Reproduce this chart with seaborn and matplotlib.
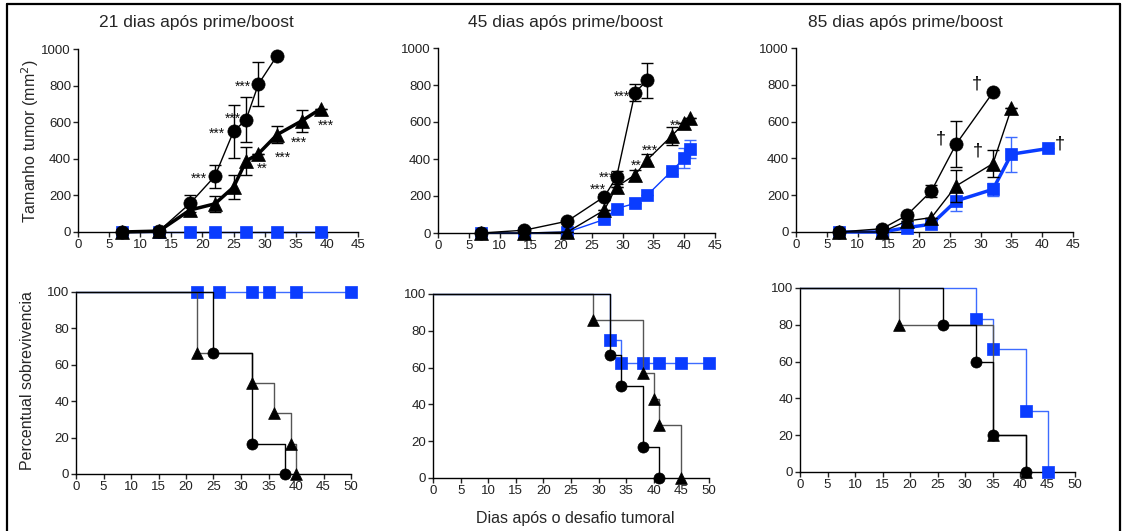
import numpy as np
import matplotlib
matplotlib.use('Agg')
import matplotlib.pyplot as plt
import seaborn as sns
from matplotlib.lines import Line2D

sns.set_style('ticks')
plt.rcParams['font.family'] = ['Liberation Sans', 'DejaVu Sans']

BLUE = '#0a3cff'
BLUE_LINE = '#3d6bff'
GRAY = '#555555'

titles = ['21 dias após prime/boost', '45 dias após prime/boost', '85 dias após prime/boost']

# ---- tumour growth (mean, error) ----
# 21 dias
c1_x = [7, 13, 18, 22, 25, 27, 29, 32]
c1_y = [0, 5, 156, 305, 550, 613, 808, 964]
c1_e = [0, 0, 45, 63, 145, 122, 122, 0]
t1_x = [7, 13, 18, 22, 25, 27, 29, 32, 36, 39]
t1_y = [0, 5, 120, 154, 245, 387, 428, 532, 608, 673]
t1_e = [0, 0, 25, 43, 66, 75, 0, 45, 60, 0]
s1_x = [7, 13, 18, 22, 27, 32, 39]
s1_y = [0, 0, 0, 0, 0, 0, 0]
s1_e = [0, 0, 0, 0, 0, 0, 0]
# 45 dias
c2_x = [7, 14, 21, 27, 29, 32, 34]
c2_y = [0, 15, 64, 196, 301, 759, 826]
c2_e = [0, 0, 0, 15, 35, 45, 95]
t2_x = [7, 14, 21, 27, 29, 32, 34, 38, 40, 41]
t2_y = [0, 0, 5, 123, 250, 314, 396, 526, 595, 619]
t2_e = [0, 0, 0, 0, 0, 27, 31, 48, 0, 0]
s2_x = [7, 14, 21, 27, 29, 32, 34, 38, 40, 41]
s2_y = [0, 0, 5, 73, 132, 160, 205, 336, 405, 456]
s2_e = [0, 0, 0, 0, 0, 0, 0, 18, 52, 49]
# 85 dias
c3_x = [7, 14, 18, 22, 26, 32]
c3_y = [0, 18, 91, 223, 477, 759]
c3_e = [0, 0, 0, 32, 125, 0]
t3_x = [7, 14, 18, 22, 26, 32, 35]
t3_y = [0, 0, 60, 78, 250, 372, 673]
t3_e = [0, 0, 0, 0, 86, 73, 0]
s3_x = [7, 14, 18, 22, 26, 32, 35, 41]
s3_y = [0, 0, 24, 42, 169, 232, 423, 454]
s3_e = [0, 0, 0, 0, 56, 37, 96, 0]

# significance marks (text, x, y)
stars1 = [('***', 19.5, 318), ('***', 22.4, 559), ('***', 24.9, 641), ('***', 26.5, 819),
          ('**', 29.6, 368), ('***', 33.0, 432), ('***', 35.5, 510), ('***', 39.8, 604)]
stars2 = [('***', 29.9, 762), ('***', 27.5, 323), ('***', 25.9, 256), ('**', 32.2, 387),
          ('***', 34.4, 472), ('**', 38.5, 604)]
stars3 = [('†', 29.3, 804), ('†', 23.6, 505), ('†', 29.6, 441), ('†', 42.8, 477)]

# ---- survival (step x, step y, marker x, marker y) ----
kc1_sx = [0, 25, 32, 38];        kc1_sy = [100, 66.7, 16.7, 0]
kc1_mx = [25, 32, 38];           kc1_my = [66.7, 16.7, 0]
kt1_sx = [0, 22, 32, 36, 39, 40]; kt1_sy = [100, 66.7, 50, 33.3, 16.7, 0]
kt1_mx = [22, 32, 36, 39, 40];   kt1_my = [66.7, 50, 33.3, 16.7, 0]
ks1_sx = [0, 50];                ks1_sy = [100, 100]
ks1_mx = [22, 26, 32, 35, 40, 50]; ks1_my = [100, 100, 100, 100, 100, 100]

kc2_sx = [0, 32, 34, 38, 41];    kc2_sy = [100, 66.7, 50, 16.7, 0]
kc2_mx = [32, 34, 38, 41];       kc2_my = [66.7, 50, 16.7, 0]
kt2_sx = [0, 29, 38, 40, 41, 45]; kt2_sy = [100, 85.7, 57.1, 42.9, 28.6, 0]
kt2_mx = [29, 38, 40, 41, 45];   kt2_my = [85.7, 57.1, 42.9, 28.6, 0]
ks2_sx = [0, 32, 34, 50];        ks2_sy = [100, 75, 62.5, 62.5]
ks2_mx = [32, 34, 38, 41, 45, 50]; ks2_my = [75, 62.5, 62.5, 62.5, 62.5, 62.5]

kc3_sx = [0, 26, 32, 35, 41];    kc3_sy = [100, 80, 60, 20, 0]
kc3_mx = [26, 32, 35, 41];       kc3_my = [80, 60, 20, 0]
kt3_sx = [0, 18, 35, 41];        kt3_sy = [100, 80, 20, 0]
kt3_mx = [18, 35, 41];           kt3_my = [80, 20, 0]
ks3_sx = [0, 32, 35, 41, 45];    ks3_sy = [100, 83.3, 66.7, 33.3, 0]
ks3_mx = [32, 35, 41, 45];       ks3_my = [83.3, 66.7, 33.3, 0]

W, H = 1124, 531
fig = plt.figure(figsize=(W / 100, H / 100), dpi=100)


def px_axes(l, r, t, b):
    return fig.add_axes([l / W, 1 - b / H, (r - l) / W, (b - t) / H])


def style(ax, xmax, ymax, ystep):
    ax.set_xlim(0, xmax)
    ax.set_ylim(0, ymax)
    ax.set_xticks(np.arange(0, xmax + 1, 5))
    ax.set_yticks(np.arange(0, ymax + 1, ystep))
    sns.despine(ax=ax)
    for s in ['left', 'bottom']:
        ax.spines[s].set_linewidth(1.0)
        ax.spines[s].set_color('black')
        ax.spines[s].set_zorder(2.5)
    ax.tick_params(direction='out', length=3.5, width=1.0, pad=1.5, labelsize=9.5, colors='#222222')
    ax.set_xlabel('')
    ax.set_ylabel('')


def growth(ax, x, y, e, marker, color, ecolor, lw, ms, z, line_z=None):
    ax.errorbar(x, y, yerr=e, fmt='none', ecolor=ecolor, elinewidth=1.0, capsize=4,
                capthick=1.0, zorder=z - 0.5, clip_on=False)
    # connecting line
    sns.lineplot(x=x, y=y, ax=ax, color=color, lw=lw, clip_on=False,
                 zorder=z if line_z is None else line_z, estimator=None)
    # symbols
    sns.lineplot(x=x, y=y, ax=ax, color=color, lw=0, marker=marker, markersize=ms,
                 markerfacecolor=color, markeredgecolor=color, markeredgewidth=0.5,
                 clip_on=False, zorder=z + 0.1, estimator=None)


def survival(ax, sx, sy, mx, my, marker, lcolor, mcolor, ms, z):
    sns.lineplot(x=sx, y=sy, ax=ax, color=lcolor, lw=1.0, drawstyle='steps-post',
                 clip_on=False, zorder=z, estimator=None)
    sns.scatterplot(x=mx, y=my, ax=ax, marker=marker, s=ms ** 2, color=mcolor,
                    edgecolor=mcolor, linewidth=0.5, clip_on=False, zorder=z + 0.2)


# top row
top_boxes = [(78, 358, 49, 232), (438, 715, 48, 233), (796, 1073, 48, 232)]
top_data = [
    ((s1_x, s1_y, s1_e, 1.0, 2.0), (c1_x, c1_y, c1_e, 1.0), (t1_x, t1_y, t1_e, 2.5), stars1),
    ((s2_x, s2_y, s2_e, 1.0, None), (c2_x, c2_y, c2_e, 1.0), (t2_x, t2_y, t2_e, 1.0), stars2),
    ((s3_x, s3_y, s3_e, 2.5, None), (c3_x, c3_y, c3_e, 1.0), (t3_x, t3_y, t3_e, 1.0), stars3),
]
for box, (sq, ci, tr, marks) in zip(top_boxes, top_data):
    ax = px_axes(*box)
    growth(ax, sq[0], sq[1], sq[2], 's', BLUE, BLUE_LINE, sq[3], 8.5, 3, line_z=sq[4])
    growth(ax, ci[0], ci[1], ci[2], 'o', 'black', 'black', ci[3], 9.5, 4)
    growth(ax, tr[0], tr[1], tr[2], '^', 'black', 'black', tr[3], 9.5, 5)
    style(ax, 45, 1000, 200)
    for txt, tx, ty in marks:
        if txt == '†':
            ax.text(tx, ty, txt, ha='center', va='center', fontsize=13, color='black')
        else:
            ax.text(tx, ty - 25, txt, ha='center', va='center', fontsize=10, color='#111111')

# bottom row
bot_boxes = [(76, 351, 292, 474), (433, 709, 294, 478), (800, 1075, 288, 472)]
bot_data = [
    ((ks1_sx, ks1_sy, ks1_mx, ks1_my), (kc1_sx, kc1_sy, kc1_mx, kc1_my), (kt1_sx, kt1_sy, kt1_mx, kt1_my)),
    ((ks2_sx, ks2_sy, ks2_mx, ks2_my), (kc2_sx, kc2_sy, kc2_mx, kc2_my), (kt2_sx, kt2_sy, kt2_mx, kt2_my)),
    ((ks3_sx, ks3_sy, ks3_mx, ks3_my), (kc3_sx, kc3_sy, kc3_mx, kc3_my), (kt3_sx, kt3_sy, kt3_mx, kt3_my)),
]
for box, (sq, ci, tr) in zip(bot_boxes, bot_data):
    ax = px_axes(*box)
    survival(ax, *sq, 's', BLUE_LINE, BLUE, 8.5, 3)
    survival(ax, *tr, '^', GRAY, 'black', 8.5, 4)
    survival(ax, *ci, 'o', 'black', 'black', 8.0, 5)
    style(ax, 50, 100, 20)

# titles and shared labels
for (l, r, t, b), title, cx in zip(top_boxes, titles, [196, 565, 905]):
    fig.text(cx / W, 1 - 22 / H, title, ha='center', va='center', fontsize=12.5)
fig.text(30 / W, 1 - 141 / H, 'Tamanho tumor (mm$^2$)', rotation=90, ha='center', va='center', fontsize=11.5)
fig.text(28 / W, 1 - 381 / H, 'Percentual sobrevivencia', rotation=90, ha='center', va='center', fontsize=11.5)
fig.text(575 / W, 1 - 519 / H, 'Dias após o desafio tumoral', ha='center', va='center', fontsize=11.5)

# outer frame (left, top, right)
fig.add_artist(Line2D([7 / W, 7 / W], [0, 1 - 4 / H], color='black', lw=1.6))
fig.add_artist(Line2D([7 / W, 1120 / W], [1 - 4 / H, 1 - 4 / H], color='black', lw=1.6))
fig.add_artist(Line2D([1120 / W, 1120 / W], [0, 1 - 4 / H], color='black', lw=1.6))

fig.savefig('out.png', dpi=100)
